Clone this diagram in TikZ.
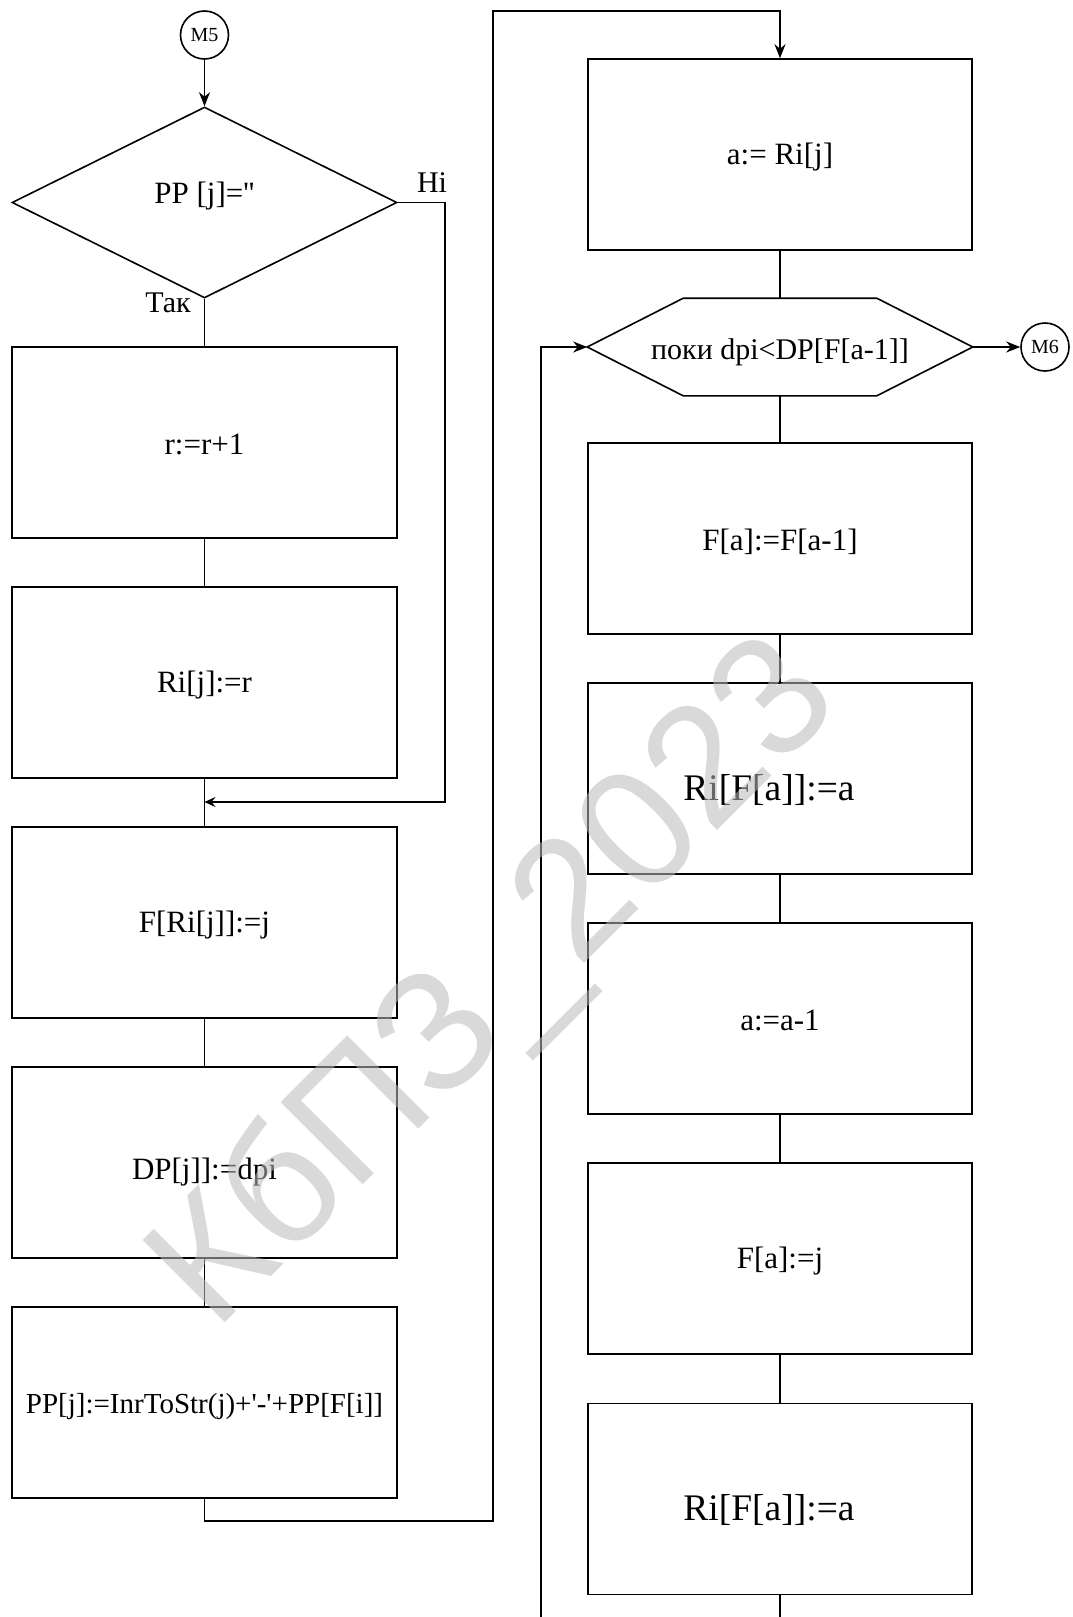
\documentclass[tikz,border=0pt]{standalone}
\usepackage{fontspec}
\setmainfont{Liberation Serif}
\newfontfamily\qfont{Liberation Serif}
\newfontfamily\wmfont{Liberation Sans}
\usetikzlibrary{shapes.geometric,arrows.meta}
\newcommand\mvtxt[2]{\raisebox{-#1}[\height][\depth]{#2}}
\begin{document}
\begin{tikzpicture}[x=1pt,y=-1pt,line width=1.6pt,
  blk/.style={draw,rectangle,minimum width=385pt,minimum height=191pt,inner sep=0pt,font=\fontsize{31}{36}\selectfont},
  bigblk/.style={blk,font=\fontsize{37.5}{44}\selectfont},
  conn/.style={draw,circle,minimum size=48pt,inner sep=0pt,font=\fontsize{20}{24}\selectfont},
  lbl/.style={inner sep=0pt,font=\fontsize{30}{36}\selectfont},
  arr/.style={-{Stealth[length=14pt,width=11pt]}},
  sarr/.style={-{Stealth[length=11pt,width=10pt,inset=4pt]}}]
\useasboundingbox (0,0) rectangle (1072,1617);
% left column
\node[conn] (m5) at (204.5,35) {M5};
\node[draw,diamond,minimum width=385pt,minimum height=191pt,inner sep=0pt] (dia) at (204.5,202.5) {};
\node[lbl,font=\qfont\fontsize{31}{36}\selectfont] (diat) at (204.5,196) {PP [j]=''};
\node[blk] (b1) at (204.5,442.5) {\mvtxt{2pt}{r:=r+1}};
\node[blk] (b2) at (204.5,682.5) {\mvtxt{3pt}{Ri[j]:=r}};
\node[blk] (b3) at (204.5,922.5) {\mvtxt{3pt}{F[Ri[j]]:=j}};
\node[blk] (b4) at (204.5,1162.5) {\mvtxt{10pt}{DP[j]]:=dpi}};
\node[blk,font=\qfont\fontsize{29}{34}\selectfont] (b5) at (204.5,1402.5) {\mvtxt{4pt}{PP[j]:=InrToStr(j)+'-'+PP[F[i]]}};
\node[lbl] (ni) at (432,183) {Ні};
\node[lbl] (tak) at (168,303) {Так};
% right column
\node[blk,minimum width=384pt] (c1) at (780,154.5) {\mvtxt{3pt}{a:= Ri[j]}};
\node[minimum width=384pt,minimum height=96pt,inner sep=0pt,font=\fontsize{30}{36}\selectfont] (hex) at (780,347) {\mvtxt{5pt}{поки dpi<DP[F[a-1]]}};
\draw (hex.west) -- ([xshift=96pt]hex.north west) -- ([xshift=-96pt]hex.north east) -- (hex.east) -- ([xshift=-96pt]hex.south east) -- ([xshift=96pt]hex.south west) -- cycle;
\node[conn] (m6) at (1045,347) {M6};
\node[blk,minimum width=384pt] (c2) at (780,538.5) {\mvtxt{3pt}{F[a]:=F[a-1]}};
\node[bigblk,minimum width=384pt] (c3) at (780,778.5) {\mvtxt{11pt}{Ri[F[a]]:=a\hspace*{22pt}}};
\node[blk,minimum width=384pt] (c4) at (780,1018.5) {\mvtxt{2pt}{a:=a-1}};
\node[blk,minimum width=384pt] (c5) at (780,1258.5) {\mvtxt{3pt}{F[a]:=j}};
\node[bigblk,minimum width=384pt] (c6) at (780,1499) {\mvtxt{11pt}{Ri[F[a]]:=a\hspace*{22pt}}};
% coordinates
\coordinate (merge) at (204.5,802);
\coordinate (lb) at (204.5,1521);
\coordinate (lt) at (493,11);
\coordinate (bot) at (780,1617);
\coordinate (loopb) at (541,1617);
% connectors
\draw[arr] (m5) -- (dia.north);
\draw (dia.south) -- (b1.north);
\draw (b1.south) -- (b2.north);
\draw (b2.south) -- (b3.north);
\draw[sarr] (dia.east) -- ++(47,0) |- (merge);
\draw (b3.south) -- (b4.north);
\draw (b4.south) -- (b5.north);
\draw[arr] (b5.south) -- (lb) -| (lt) -| (c1.north);
\draw (c1.south) -- (hex.north);
\draw[arr] (hex.east) -- (m6.west);
\draw (hex.south) -- (c2.north);
\draw (c2.south) -- (c3.north);
\draw (c3.south) -- (c4.north);
\draw (c4.south) -- (c5.north);
\draw (c5.south) -- (c6.north);
\draw (c6.south) -- (bot);
\draw[arr] (loopb) |- (hex.west);
% watermark
\node[rotate=45,text=black!27,opacity=0.55,inner sep=0pt,font=\wmfont\fontsize{169}{169}\selectfont] (wm) at (498,986) {КбПЗ\_2023};
\end{tikzpicture}
\end{document}
